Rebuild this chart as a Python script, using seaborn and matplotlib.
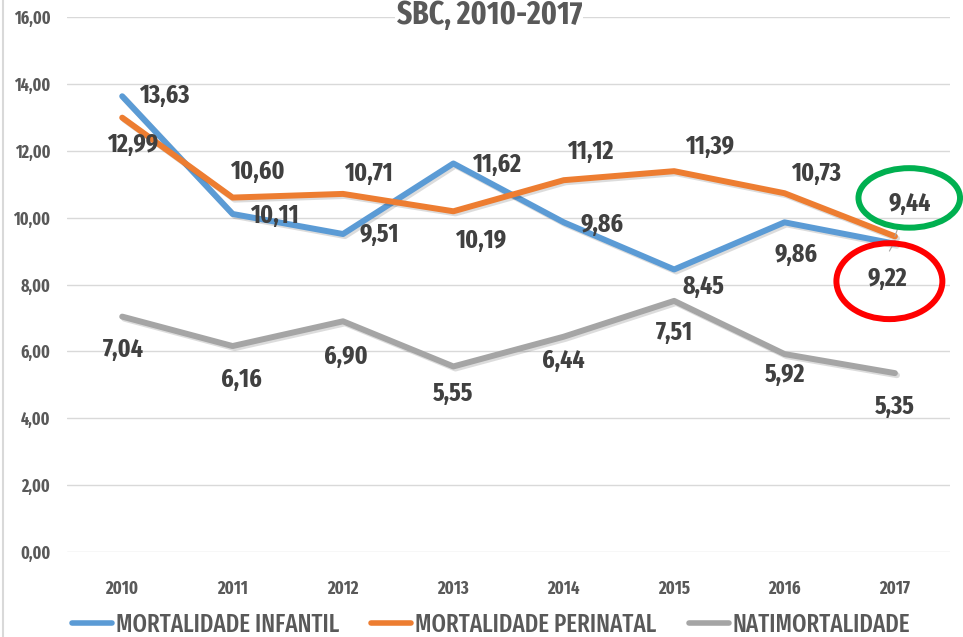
import pandas as pd
import seaborn as sns
import matplotlib.pyplot as plt
from matplotlib import font_manager
from matplotlib.patches import Ellipse
from matplotlib.lines import Line2D
import matplotlib.patheffects as pe

anos = [2010, 2011, 2012, 2013, 2014, 2015, 2016, 2017]
infantil = [13.63, 10.11, 9.51, 11.62, 9.86, 8.45, 9.86, 9.22]
perinatal = [12.99, 10.60, 10.71, 10.19, 11.12, 11.39, 10.73, 9.44]
natimort = [7.04, 6.16, 6.90, 5.55, 6.44, 7.51, 5.92, 5.35]
series = ['MORTALIDADE INFANTIL', 'MORTALIDADE PERINATAL', 'NATIMORTALIDADE']
cores = ['#5B9BD5', '#ED7D31', '#A5A5A5']

# label offsets in pixels (dx, dy), one per point
off_inf = [(42, 0), (42, -2), (36, -1), (43, -1), (38, -2), (29, -17), (11, -32), (-8, -35)]
off_per = [(10, -27), (25, 26), (25, 20), (27, -30), (26, 28), (35, 24), (31, 19), (15, 33)]
off_nat = [(1, -33), (9, -34), (3, -36), (0, -27), (0, -24), (0, -32), (0, -21), (0, -34)]

sns.set_theme(style='white')
nomes = {f.name for f in font_manager.fontManager.ttflist}
fonte = next((f for f in ['Fira Sans Extra Condensed', 'Barlow Condensed', 'DejaVu Sans']
              if f in nomes), 'DejaVu Sans')
plt.rcParams['font.family'] = [fonte, 'DejaVu Sans']

df = pd.DataFrame({'ano': anos * 3,
                   'valor': infantil + perinatal + natimort,
                   'serie': [s for s in series for _ in anos]})

fig = plt.figure(figsize=(9.63, 6.37), dpi=100)
ax = fig.add_axes([0.0696, 0.1334, 0.917, 0.8399])

sns.lineplot(data=df, x='ano', y='valor', hue='serie', palette=dict(zip(series, cores)),
             linewidth=4.3, ax=ax, legend=False, zorder=3,
             path_effects=[pe.SimpleLineShadow(offset=(1.5, -1.5), alpha=0.15), pe.Normal()])

ax.set_xlim(2009.5, 2017.5)
ax.set_ylim(0, 16)
ax.set_yticks(range(0, 17, 2))
ax.set_yticklabels([f'{v:.2f}'.replace('.', ',') for v in range(0, 17, 2)],
                   fontsize=12.5, fontweight='bold', color='#595959')
ax.set_xticks(anos)
ax.set_xticklabels([str(a) for a in anos], fontsize=13, fontweight='bold', color='#595959')
ax.tick_params(axis='y', length=0, pad=12)
ax.tick_params(axis='x', length=0, pad=20)
ax.grid(axis='y', color='#D9D9D9', linewidth=1)
ax.set_xlabel('')
ax.set_ylabel('')
for s in ax.spines.values():
    s.set_visible(False)

for vals, offs in [(infantil, off_inf), (perinatal, off_per), (natimort, off_nat)]:
    for a, v, (dx, dy) in zip(anos, vals, offs):
        ax.annotate(f'{v:.2f}'.replace('.', ','), (a, v), xytext=(dx, dy),
                    textcoords='offset pixels', ha='center', va='center',
                    fontsize=18.5, fontweight='bold', color='#404040', zorder=5)

# leader lines for the last two labels
ax.plot([2017, 2017.03], [9.44, 9.72], color='#A5A5A5', lw=0.8, zorder=4)
ax.plot([2017, 2016.95], [9.30, 9.00], color='#A5A5A5', lw=0.8, zorder=4)

ax.add_patch(Ellipse((2017.13, 10.59), 0.92, 1.78, fill=False, edgecolor='#00B050',
                     linewidth=4.3, clip_on=False, zorder=6))
ax.add_patch(Ellipse((2016.95, 8.10), 0.96, 2.27, fill=False, edgecolor='#FF0000',
                     linewidth=4.3, clip_on=False, zorder=6))

fig.text(0.508, 0.976, 'SBC, 2010-2017', ha='center', va='center', fontsize=23,
         fontweight='bold', color='#595959',
         bbox=dict(facecolor='white', edgecolor='none', pad=1))

handles = [Line2D([0], [0], color=c, lw=4) for c in cores]
leg = fig.legend(handles, series, loc='center', bbox_to_anchor=(0.51, 0.019), ncol=3,
                 frameon=False, fontsize=18, labelcolor='#595959', handlelength=1.6,
                 columnspacing=1.3, handletextpad=0.15, borderaxespad=0, borderpad=0)
for t in leg.get_texts():
    t.set_fontweight('medium')

fig.add_artist(Line2D([0.003, 0.003], [0, 1], color='#D9D9D9', lw=1.5,
                      transform=fig.transFigure))

plt.savefig('out.png', dpi=100)
